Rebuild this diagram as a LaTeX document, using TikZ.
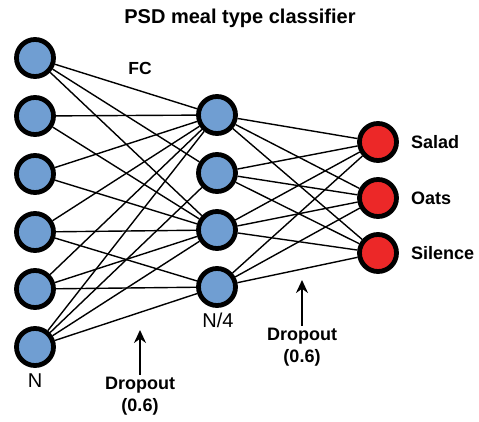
\documentclass[tikz,border=0pt]{standalone}
\usepackage{fontspec}
\setmainfont{Liberation Sans}
\usetikzlibrary{arrows.meta}
\definecolor{nblue}{RGB}{112,158,210}
\definecolor{nred}{RGB}{236,40,40}
\tikzset{
  neuron/.style={circle, draw=black, line width=4.8pt, minimum size=37pt, inner sep=0pt},
  inneuron/.style={neuron, fill=nblue},
  outneuron/.style={neuron, fill=nred},
  conn/.style={line width=1.4pt, black},
  lbl/.style={font=\fontsize{18}{22}\selectfont\bfseries, align=center, inner sep=0pt},
  plain/.style={font=\fontsize{20}{22}\selectfont, inner sep=0pt},
  droparrow/.style={line width=1.8pt, -{Stealth[length=13pt,width=12pt]}}
}
\begin{document}
\begin{tikzpicture}[x=1pt,y=-1pt]
\useasboundingbox (0,0) rectangle (479,421);
% nodes
\node[inneuron] (L1) at (35,58) {};
\node[inneuron] (L2) at (35,116) {};
\node[inneuron] (L3) at (35,174) {};
\node[inneuron] (L4) at (35,232) {};
\node[inneuron] (L5) at (35,289) {};
\node[inneuron] (L6) at (35,347) {};
\node[inneuron] (M1) at (217,115) {};
\node[inneuron] (M2) at (217,173) {};
\node[inneuron] (M3) at (217,230) {};
\node[inneuron] (M4) at (217,287) {};
\node[outneuron] (R1) at (378,142) {};
\node[outneuron] (R2) at (378,198) {};
\node[outneuron] (R3) at (378,253) {};
% connections input -> hidden
\foreach \a/\b in {L1/M1,L1/M2,L1/M3,
                   L2/M1,L2/M3,
                   L3/M1,L3/M3,
                   L4/M1,L4/M3,L4/M4,
                   L5/M1,L5/M3,L5/M4,
                   L6/M1,L6/M2,L6/M3,L6/M4}
  \draw[conn] (\a) -- (\b);
% connections hidden -> output
\foreach \a in {M1,M2,M3,M4}
  \foreach \b in {R1,R2,R3}
    \draw[conn] (\a) -- (\b);
% texts
\node[font=\fontsize{20}{24}\selectfont\bfseries, inner sep=0pt] (title) at (240,18) {PSD meal type classifier};
\node[lbl, font=\fontsize{17.5}{20}\selectfont\bfseries] (fc) at (140,68) {FC};
\node[lbl, anchor=west] (ts) at (411,142) {Salad};
\node[lbl, anchor=west] (to) at (411,198) {Oats};
\node[lbl, anchor=west] (tl) at (411,253) {Silence};
\node[plain] (tn) at (35,381) {N};
\node[plain] (tn4) at (218,320) {N/4};
\node[lbl] (d1) at (140,396) {Dropout\\(0.6)};
\node[lbl] (d2) at (302,347) {Dropout\\(0.6)};
\coordinate (a1) at (140,330);
\coordinate (a2) at (302,280);
\draw[droparrow] (d1.north) ++(0,-2) -- (a1);
\draw[droparrow] (d2.north) ++(0,-2) -- (a2);
\end{tikzpicture}
\end{document}
